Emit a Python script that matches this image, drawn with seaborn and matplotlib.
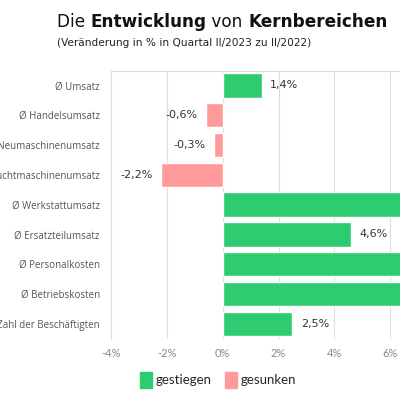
import matplotlib
matplotlib.use("Agg")
import matplotlib.pyplot as plt
import matplotlib.patches as mpatches
import seaborn as sns
import pandas as pd

categories = [
    "Ø Umsatz",
    "Ø Handelsumsatz",
    "Ø Neumaschinenumsatz",
    "Ø Gebrauchtmaschinenumsatz",
    "Ø Werkstattumsatz",
    "Ø Ersatzteilumsatz",
    "Ø Personalkosten",
    "Ø Betriebskosten",
    "Ø Zahl der Beschäftigten",
]
values = [1.4, -0.6, -0.3, -2.2, 7.7, 4.6, 8.1, 7.3, 2.5]
ticks = [-4, -2, 0, 2, 4, 6, 8]

GREEN = "#2ecc71"
PINK = "#ff9a9a"

df = pd.DataFrame({"Bereich": categories, "Wert": values})
df["Richtung"] = ["gestiegen" if v >= 0 else "gesunken" for v in values]

sns.set_style("white")
plt.rcParams["font.family"] = ["DejaVu Sans"]

fig = plt.figure(figsize=(4, 4), dpi=100)
ax = fig.add_axes([0.2775, 0.1535, 0.8375, 0.67])

sns.barplot(data=df, y="Bereich", x="Wert", hue="Richtung",
            palette={"gestiegen": GREEN, "gesunken": PINK},
            dodge=False, width=0.82, ax=ax, legend=False, saturation=1)

ax.set_xlim(-4, 8)
ax.set_xticks(ticks)
ax.set_xticklabels([f"{t}%" for t in ticks], color="#888888", fontsize=8,
                   family="Lato")
ax.set_yticks(range(len(categories)))
ax.set_yticklabels(categories, family="Open Sans", fontsize=7.0, color="#555555")
ax.set_xlabel("")
ax.set_ylabel("")
ax.tick_params(axis="y", length=0, pad=8)
ax.tick_params(axis="x", length=0, pad=7)
ax.xaxis.grid(True, color="#dddddd", linewidth=0.8)
ax.set_axisbelow(True)
for s in ["bottom", "right"]:
    ax.spines[s].set_visible(False)
for s in ["top", "left"]:
    ax.spines[s].set_color("#dddddd")
    ax.spines[s].set_linewidth(0.8)

for i, v in enumerate(values):
    txt = f"{v:.1f}%".replace(".", ",")
    if v >= 0:
        ax.text(v + 0.3, i, txt, va="center", ha="left", fontsize=8, color="#333333")
    else:
        ax.text(v - 0.3, i, txt, va="center", ha="right", fontsize=8, color="#333333")

# title with mixed weights
fig.canvas.draw()
renderer = fig.canvas.get_renderer()
x = 57 / 400
for part, weight in [("Die ", "normal"), ("Entwicklung", "bold"), (" von ", "normal"),
                     ("Kernbereichen", "bold")]:
    t = fig.text(x, 1 - 22 / 400, part, fontsize=12.2, fontweight=weight,
                 va="center", ha="left", color="#111111")
    bb = t.get_window_extent(renderer)
    x = bb.x1 / fig.bbox.width
fig.text(57 / 400, 1 - 43 / 400, "(Veränderung in % in Quartal II/2023 zu II/2022)",
         fontsize=7.6, va="center", ha="left", color="#222222")

handles = [mpatches.Patch(color=GREEN, label="gestiegen"),
           mpatches.Patch(color=PINK, label="gesunken")]
fig.legend(handles=handles, loc="center", bbox_to_anchor=(0.545, 0.05), ncol=2,
           frameon=False, prop={"family": "Lato", "size": 9.5}, handlelength=0.9,
           handleheight=1.4, handletextpad=0.3, columnspacing=1.0)

fig.savefig("out.png", dpi=100)
